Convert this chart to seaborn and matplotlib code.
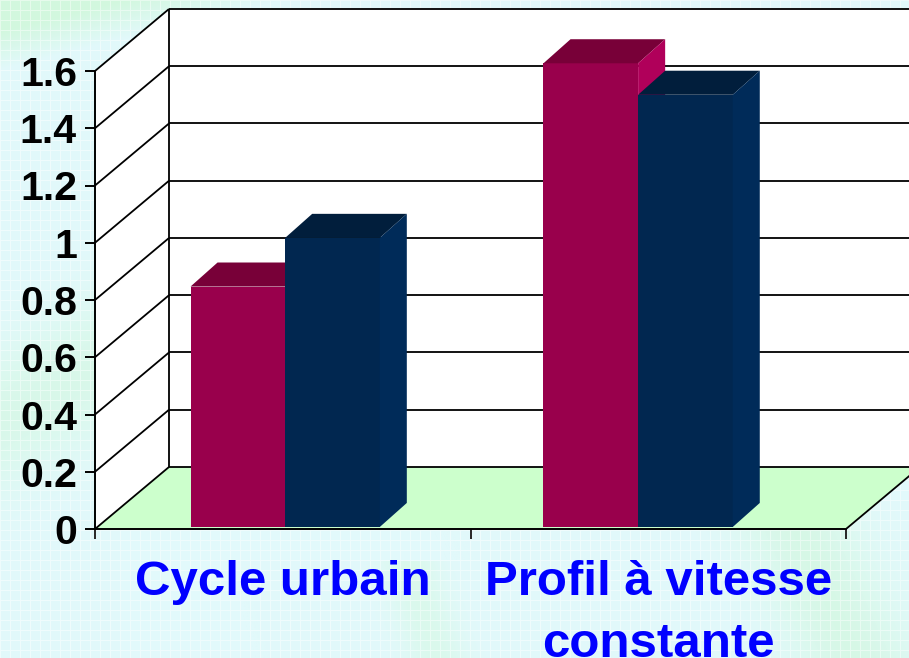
import numpy as np
import pandas as pd
import matplotlib
matplotlib.use("Agg")
import matplotlib.pyplot as plt
import seaborn as sns
from matplotlib.patches import Polygon
from matplotlib.transforms import offset_copy

# ---- data -------------------------------------------------------------
categories = ["Cycle urbain", "Profil à vitesse\nconstante"]
series = ["Série 1", "Série 2"]
values_s1 = [0.84, 1.62]
values_s2 = [1.01, 1.51]
y_ticks = [0, 0.2, 0.4, 0.6, 0.8, 1.0, 1.2, 1.4, 1.6]
y_tick_labels = ["0", "0.2", "0.4", "0.6", "0.8", "1", "1.2", "1.4", "1.6"]

df = pd.DataFrame({
    "categorie": categories * 2,
    "serie": [series[0]] * 2 + [series[1]] * 2,
    "valeur": values_s1 + values_s2,
})

# ---- style --------------------------------------------------------------
sns.set_theme(style="white")
plt.rcParams["font.family"] = ["Liberation Sans", "DejaVu Sans"]

W, H = 909, 658
front_colors = ["#99004C", "#012750"]
top_colors = ["#780038", "#011E3C"]
side_colors = ["#B0005A", "#002B59"]
floor_color = "#CCFFCC"
label_blue = "#0000FF"

# oblique depth of the 3D box, in data units (x: categories, y: values)
DX, DY = 0.197, 0.2166
# depth of each bar
BDX, BDY = 0.072, 0.084
# horizontal placement of each bar group relative to its category
group_shift = [0.0, -0.06]
y_max = 1.6

fig = plt.figure(figsize=(W / 100, H / 100), dpi=100)

# ---- textured pastel background ---------------------------------------
yy, xx = np.mgrid[0:H, 0:W].astype(float)
cyan = np.array([226, 249, 251]) / 255.0
mint = np.array([210, 247, 222]) / 255.0
band = np.zeros((H, W))
band += np.clip((70 - yy - 0.25 * xx) / 40.0, 0, 1)            # upper band
band += 0.6 * np.exp(-((xx * 0.55 + yy - 420) / 70.0) ** 2) * (xx < 120)
band += 0.7 * np.exp(-((xx - 0.45 * yy - 560) / 60.0) ** 2) * (yy > 500)
band += 0.5 * np.exp(-((xx - 0.3 * yy - 240) / 30.0) ** 2) * (yy > 560)
band = np.clip(band, 0, 1)[..., None]
img = cyan * (1 - band) + mint * band
grid = ((xx % 10) < 1) | ((yy % 10) < 1)
img[grid] = img[grid] * 0.55 + 0.45
bg = fig.add_axes([0, 0, 1, 1], zorder=-10)
bg.imshow(img, aspect="auto", interpolation="bilinear")
bg.set_axis_off()

# ---- main axes: the front plane of the 3D box ---------------------------
ax = fig.add_axes([95 / W, 129 / H, 751 / W, 458 / H])
ax.patch.set_visible(False)
ax.set_xlim(-0.5, 1.5)
ax.set_ylim(0, y_max)

x0, x1 = -0.5, 1.5
walls = dict(clip_on=False, linewidth=0)
ax.add_patch(Polygon([(x0, 0), (x0, y_max), (x0 + DX, y_max + DY), (x0 + DX, DY)],
                     facecolor="white", zorder=1, **walls))
ax.add_patch(Polygon([(x0 + DX, DY), (x1 + DX, DY), (x1 + DX, y_max + DY), (x0 + DX, y_max + DY)],
                     facecolor="white", zorder=1, **walls))
ax.add_patch(Polygon([(x0, 0), (x1, 0), (x1 + DX, DY), (x0 + DX, DY)],
                     facecolor=floor_color, zorder=1, **walls))

line_kw = dict(color="black", linewidth=1.3, clip_on=False, zorder=2,
               solid_capstyle="butt")
for t in y_ticks:
    ax.plot([x0, x0 + DX], [t, t + DY], **line_kw)
    ax.plot([x0 + DX, x1 + DX], [t + DY, t + DY], **line_kw)
ax.plot([x0 + DX, x0 + DX], [DY, y_max + DY], **line_kw)
ax.plot([x1, x1 + DX], [0, DY], **line_kw)
ax.plot([x1 + DX, x1 + DX], [DY, y_max + DY], **line_kw)

# ---- bars ---------------------------------------------------------------
sns.barplot(data=df, x="categorie", y="valeur", hue="serie",
            order=categories, hue_order=series, palette=front_colors,
            saturation=1, width=0.504, linewidth=0, legend=False, ax=ax)
ax.set_xlim(-0.5, 1.5)
ax.set_ylim(0, y_max)

bar_trans = offset_copy(ax.transData, fig=fig, x=2.4, y=2.0, units="dots")
for i, container in enumerate(ax.containers):
    for j, bar in enumerate(container):
        bar.set_x(bar.get_x() + group_shift[j])
        bar.set_transform(bar_trans)
        bar.set_zorder(5 + i)
        bar.set_clip_on(False)
        bx0 = bar.get_x()
        bx1 = bx0 + bar.get_width()
        h = bar.get_height()
        ax.add_patch(Polygon([(bx0, h), (bx1, h), (bx1 + BDX, h + BDY), (bx0 + BDX, h + BDY)],
                             facecolor=top_colors[i], linewidth=0, transform=bar_trans,
                             clip_on=False, zorder=5.5 + i))
        ax.add_patch(Polygon([(bx1, 0), (bx1 + BDX, BDY), (bx1 + BDX, h + BDY), (bx1, h)],
                             facecolor=side_colors[i], linewidth=0, transform=bar_trans,
                             clip_on=False, zorder=5.5 + i))

# ---- axes, ticks and labels ------------------------------------------------
for side in ("top", "right"):
    ax.spines[side].set_visible(False)
for side in ("left", "bottom"):
    ax.spines[side].set_color("black")
    ax.spines[side].set_linewidth(1.4)
    ax.spines[side].set_zorder(3)

ax.set_yticks(y_ticks, labels=y_tick_labels)
ax.tick_params(axis="y", direction="out", length=7.2, width=1.4, pad=5.8,
               labelsize=29.5, colors="black", left=True)
for lbl in ax.get_yticklabels():
    lbl.set_fontweight("bold")

ax.set_xticks([-0.5, 0.5, 1.5], labels=["", "", ""])
ax.tick_params(axis="x", which="major", direction="out", length=7.2, width=1.4,
               bottom=True)
ax.set_xticks([0, 1], labels=categories, minor=True)
ax.tick_params(axis="x", which="minor", length=0, pad=22.3, labelsize=35.5,
               labelcolor=label_blue)
for lbl in ax.get_xticklabels(minor=True):
    lbl.set_fontweight("bold")
    lbl.set_linespacing(1.5)

ax.set_xlabel("")
ax.set_ylabel("")

fig.savefig("out.png", dpi=100)
